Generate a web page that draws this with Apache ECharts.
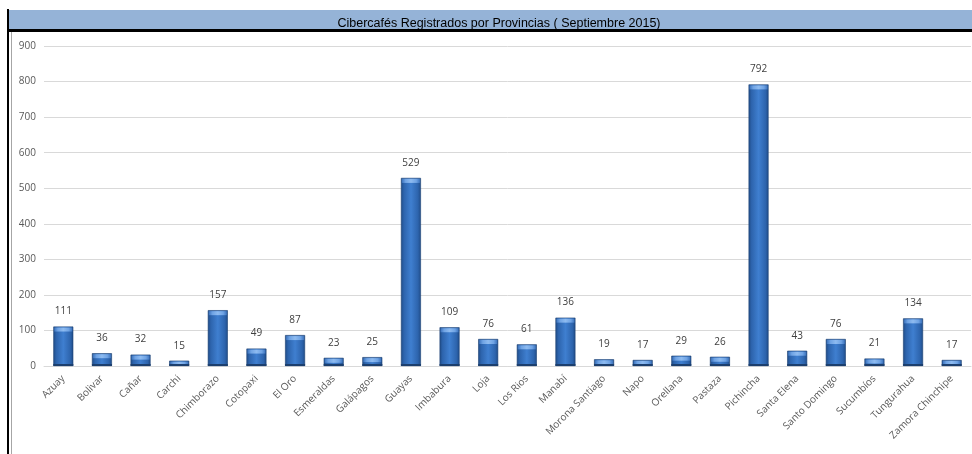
<!DOCTYPE html>
<html>
<head>
<meta charset="utf-8">
<style>
  html, body { margin: 0; padding: 0; background: #ffffff; }
  #chart { width: 972px; height: 454px; }
</style>
<script src="https://cdn.jsdelivr.net/npm/echarts@6/dist/echarts.min.js"></script>
</head>
<body>
<div id="chart"></div>
<script>
// Cybercafés registered per province, September 2015
const provinces = [
  'Azuay', 'Bolivar', 'Cañar', 'Carchi', 'Chimborazo', 'Cotopaxi', 'El Oro',
  'Esmeraldas', 'Galápagos', 'Guayas', 'Imbabura', 'Loja', 'Los Rios', 'Manabí',
  'Morona Santiago', 'Napo', 'Orellana', 'Pastaza', 'Pichincha', 'Santa Elena',
  'Santo Domingo', 'Sucumbíos', 'Tungurahua', 'Zamora Chinchipe'
];
const cybercafes = [
  111, 36, 32, 15, 157, 49, 87,
  23, 25, 529, 109, 76, 61, 136,
  19, 17, 29, 26, 792, 43,
  76, 21, 134, 17
];
const yTicks = [0, 100, 200, 300, 400, 500, 600, 700, 800, 900];

const chart = echarts.init(document.getElementById('chart'), null, { renderer: 'canvas' });

const barGradient = new echarts.graphic.LinearGradient(0, 0, 1, 0, [
  { offset: 0, color: '#1f4b86' },
  { offset: 0.15, color: '#2d64ad' },
  { offset: 0.5, color: '#3f7fd0' },
  { offset: 0.85, color: '#2d64ad' },
  { offset: 1, color: '#1f4b86' }
]);
const bevelGradient = new echarts.graphic.LinearGradient(0, 0, 1, 0, [
  { offset: 0, color: '#3c73bd' },
  { offset: 0.2, color: '#6fa3e4' },
  { offset: 0.5, color: '#8ebbf0' },
  { offset: 0.8, color: '#6fa3e4' },
  { offset: 1, color: '#3c73bd' }
]);

chart.setOption({
  animation: false,
  backgroundColor: '#ffffff',
  title: {
    text: 'Cibercafés Registrados por Provincias ( Septiembre 2015)',
    left: 494,
    top: 12,
    textAlign: 'center',
    textStyle: {
      fontFamily: '"Liberation Sans Narrow", "Liberation Sans", Arial, sans-serif',
      fontSize: 12.5,
      fontWeight: 'normal',
      color: '#000000'
    }
  },
  graphic: [
    { type: 'rect', shape: { x: 9, y: 10, width: 963, height: 20 }, style: { fill: '#95b3d7' }, z: -10 },
    { type: 'rect', shape: { x: 9, y: 29, width: 963, height: 3 }, style: { fill: '#000000' }, z: -9 },
    { type: 'rect', shape: { x: 7, y: 9, width: 2, height: 445 }, style: { fill: '#000000' }, z: -9 },
    { type: 'rect', shape: { x: 11, y: 32, width: 1, height: 422 }, style: { fill: '#a6a6a6' }, z: -9 }
  ],
  grid: { left: 44, right: 1, top: 46, bottom: 88, containLabel: false },
  xAxis: {
    type: 'category',
    data: provinces,
    axisLine: { show: true, lineStyle: { color: '#d9d9d9', width: 1 } },
    axisTick: { show: false },
    axisLabel: {
      rotate: 45,
      interval: 0,
      margin: 11,
      color: '#595959',
      fontFamily: '"Open Sans", sans-serif',
      fontSize: 10
    }
  },
  yAxis: {
    type: 'value',
    min: 0,
    max: 900,
    interval: 100,
    axisLine: { show: false },
    axisTick: { show: false },
    splitLine: { lineStyle: { color: '#d9d9d9', width: 1 } },
    axisLabel: {
      margin: 8,
      color: '#595959',
      fontFamily: '"Open Sans", sans-serif',
      fontSize: 10,
      formatter: v => (yTicks.includes(v) ? String(v) : '')
    }
  },
  series: [
    {
      type: 'bar',
      data: cybercafes,
      barWidth: 20,
      itemStyle: { color: barGradient, borderColor: '#1c4274', borderWidth: 0.6 },
      label: {
        show: true,
        position: 'top',
        distance: 10,
        color: '#404040',
        fontFamily: '"Open Sans", sans-serif',
        fontSize: 10
      },
      z: 2
    },
    {
      // lighter bevel along the top edge of each bar
      type: 'custom',
      data: cybercafes.map((v, i) => [i, v]),
      renderItem: function (params, api) {
        const top = api.coord([api.value(0), api.value(1)]);
        const base = api.coord([api.value(0), 0]);
        const w = 20;
        const h = Math.min(4, Math.max(0, base[1] - top[1] - 3));
        return {
          type: 'group',
          children: [
            {
              type: 'rect',
              shape: { x: top[0] - w / 2 + 1, y: top[1] + 1, width: w - 2, height: h },
              style: { fill: bevelGradient }
            },
            {
              type: 'rect',
              shape: { x: base[0] - w / 2, y: base[1] - 2, width: w, height: 2 },
              style: { fill: '#1c3f6e' }
            }
          ]
        };
      },
      z: 3,
      silent: true
    }
  ]
});
</script>
</body>
</html>
